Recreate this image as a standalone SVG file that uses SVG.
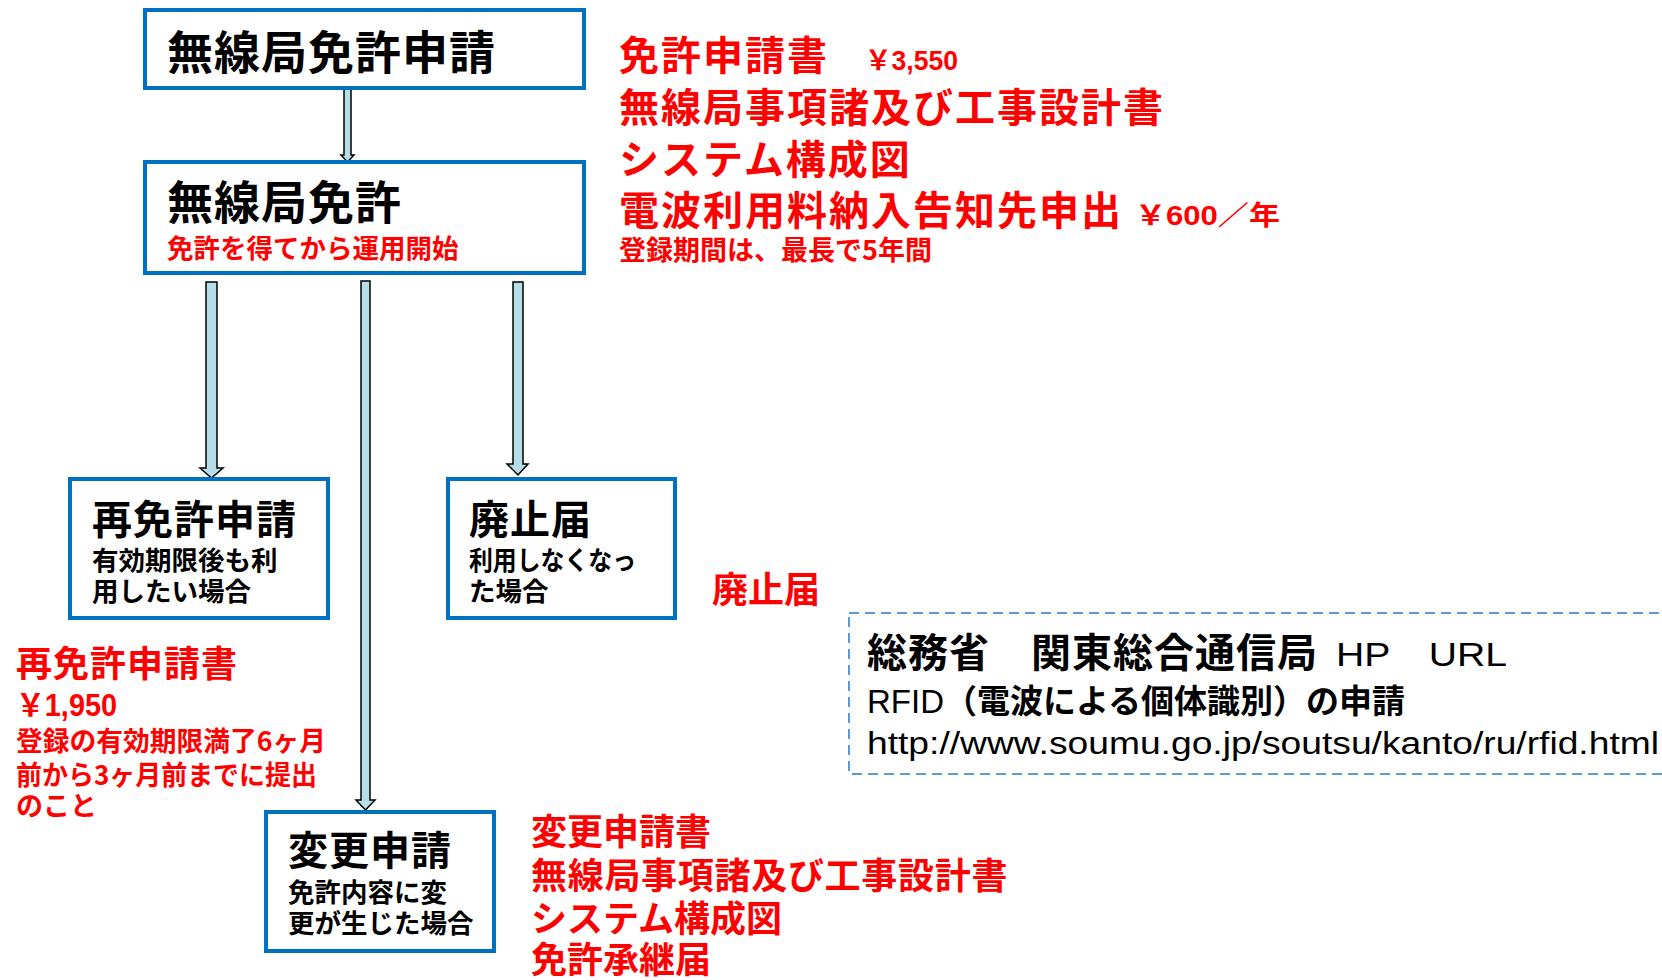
<svg xmlns="http://www.w3.org/2000/svg" width="1662" height="980" viewBox="0 0 1662 980">
<style>
.box{fill:#fff;stroke:#0070C0;stroke-width:4}
.arr{fill:#B7DEE8;stroke:#000;stroke-width:1.5;stroke-linejoin:miter}
text{font-family:"Noto Sans CJK JP","Noto Sans",sans-serif;font-weight:bold}
.k{fill:#000}
.r{fill:#FF0000}
.big{font-size:46px}
.h{font-size:40px}
.s{font-size:26.5px}
.rb{font-size:40px;fill:#FF0000;letter-spacing:2px}
.rm{font-size:36px;fill:#FF0000}
.lat{font-family:"Liberation Sans",Arial,"Noto Sans CJK JP",sans-serif}
.n{font-weight:normal}
</style>
<rect width="1662" height="980" fill="#fff"/>
<g id="connectors">
<polygon class="arr" points="344,88 351,88 351,155 354,155 347.5,162 341,155 344,155"/>
<polygon class="arr" points="206,282 217,282 217,468 223,468 211.5,478 200,468 206,468"/>
<polygon class="arr" points="361,281 370,281 370,800 375,800 365.5,810 356,800 361,800"/>
<polygon class="arr" points="513,282 523,282 523,464 528,464 518,475 507,464 513,464"/>
</g>
<g id="node-application">
<rect class="box" x="145" y="10" width="439" height="78"/>
<text class="k big" x="167" y="69" letter-spacing="1">無線局免許申請</text>
</g>
<g id="node-license">
<rect class="box" x="145" y="162" width="439" height="111"/>
<text class="k big" x="167" y="219" letter-spacing="1">無線局免許</text>
<text class="r s" x="167" y="258">免許を得てから運用開始</text>
</g>
<g id="node-relicense">
<rect class="box" x="70" y="479" width="258" height="139"/>
<text class="k h" x="92" y="534" letter-spacing="1">再免許申請</text>
<text class="k s" x="92" y="570">有効期限後も利</text>
<text class="k s" x="92" y="601">用したい場合</text>
</g>
<g id="node-abolish">
<rect class="box" x="448" y="479" width="227" height="139"/>
<text class="k h" x="469" y="534" letter-spacing="1">廃止届</text>
<text class="k s" x="469" y="570" textLength="167" lengthAdjust="spacingAndGlyphs">利用しなくなっ</text>
<text class="k s" x="469" y="601">た場合</text>
</g>
<g id="node-change">
<rect class="box" x="266" y="812" width="228" height="139"/>
<text class="k h" x="288" y="865" letter-spacing="1">変更申請</text>
<text class="k s" x="288" y="902">免許内容に変</text>
<text class="k s" x="288" y="933">更が生じた場合</text>
</g>
<g id="notes-application">
<text class="rb" x="619" y="70">免許申請書</text>
<text class="r lat" x="865" y="70" font-size="27" textLength="93" lengthAdjust="spacingAndGlyphs">￥3,550</text>
<text class="rb" x="619" y="122">無線局事項諸及び工事設計書</text>
<text class="rb" x="619" y="174">システム構成図</text>
<text class="rb" x="619" y="225">電波利用料納入告知先申出</text>
<text class="r lat" x="1135" y="225" font-size="27" textLength="145" lengthAdjust="spacingAndGlyphs">￥600／年</text>
<text class="r" x="619" y="260" font-size="27" textLength="313" lengthAdjust="spacingAndGlyphs">登録期間は、最長で5年間</text>
</g>
<g id="notes-relicense">
<text class="rm" x="16" y="677" letter-spacing="1">再免許申請書</text>
<text class="r lat" x="16" y="716" font-size="31" textLength="101" lengthAdjust="spacingAndGlyphs">￥1,950</text>
<text class="r" x="16" y="751" font-size="27" textLength="310" lengthAdjust="spacingAndGlyphs">登録の有効期限満了6ヶ月</text>
<text class="r" x="16" y="785" font-size="27" textLength="301" lengthAdjust="spacingAndGlyphs">前から3ヶ月前までに提出</text>
<text class="r" x="16" y="816" font-size="27">のこと</text>
</g>
<g id="notes-abolish">
<text class="rm" x="712" y="603">廃止届</text>
</g>
<g id="notes-change">
<text class="rm" x="531" y="845">変更申請書</text>
<text class="rm" x="531" y="889" letter-spacing="0.7">無線局事項諸及び工事設計書</text>
<text class="rm" x="531" y="932">システム構成図</text>
<text class="rm" x="531" y="973">免許承継届</text>
</g>
<g id="node-url">
<rect x="849" y="613" width="830" height="161" fill="none" stroke="#5B9BD5" stroke-width="2" stroke-dasharray="10 6"/>
<text class="k" x="867" y="667" font-size="40" letter-spacing="1">総務省　関東総合通信局</text>
<text class="k lat n" x="1336" y="666" font-size="34" textLength="171" lengthAdjust="spacingAndGlyphs">HP　URL</text>
<text class="k" x="867" y="713" font-size="33"><tspan class="lat n">RFID</tspan>（電波による個体識別）の申請</text>
<text class="k lat n" x="867" y="754" font-size="31" textLength="792" lengthAdjust="spacingAndGlyphs">http://www.soumu.go.jp/soutsu/kanto/ru/rfid.html</text>
</g>
</svg>
